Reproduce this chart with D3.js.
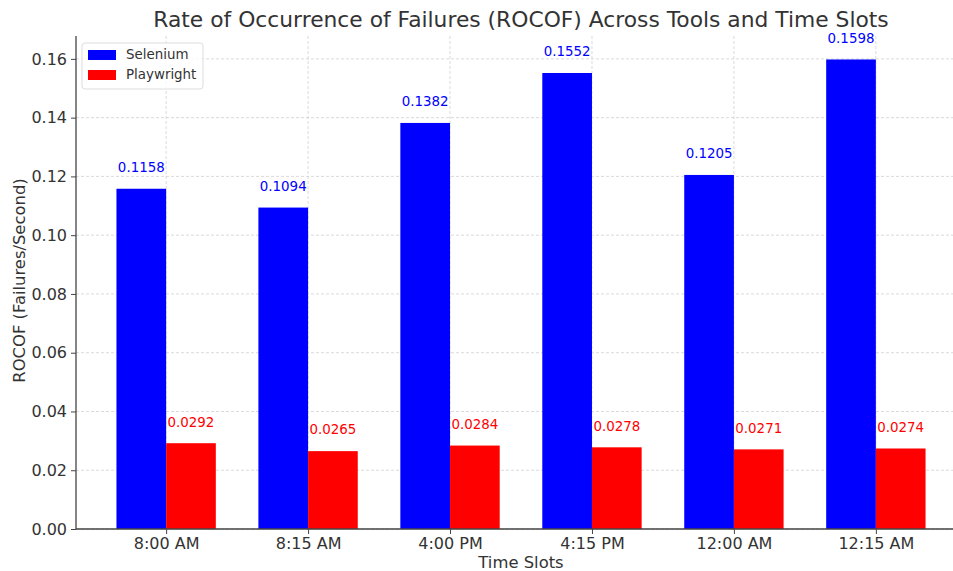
<!DOCTYPE html>
<html>
<head>
<meta charset="utf-8">
<script src="https://cdnjs.cloudflare.com/ajax/libs/d3/7.8.5/d3.min.js"></script>
<style>
  body { margin: 0; background: #fff; }
  svg { font-family: "DejaVu Sans", sans-serif; }
</style>
</head>
<body>
<div id="chart"></div>
<script>
// data
var timeSlots = ["8:00 AM", "8:15 AM", "4:00 PM", "4:15 PM", "12:00 AM", "12:15 AM"];
var selenium = [0.1158, 0.1094, 0.1382, 0.1552, 0.1205, 0.1598];
var playwright = [0.0292, 0.0265, 0.0284, 0.0278, 0.0271, 0.0274];
var yTicks = [0, 0.02, 0.04, 0.06, 0.08, 0.10, 0.12, 0.14, 0.16];
var seriesNames = ["Selenium", "Playwright"];
var seriesColors = ["#0000ff", "#ff0000"];

var svgWidth = 953, svgHeight = 571;
var margin = {top: 36, right: -13, bottom: 42, left: 76};
var width = svgWidth - margin.left - margin.right;
var height = svgHeight - margin.top - margin.bottom;
var barW = 0.35;

var svg = d3.select("#chart").append("svg")
  .attr("width", svgWidth)
  .attr("height", svgHeight);

var g = svg.append("g")
  .attr("transform", "translate(" + margin.left + "," + margin.top + ")");

// linear x like matplotlib, with 5% margins around the bars
var xLo = -barW, xHi = timeSlots.length - 1 + barW;
var pad = (xHi - xLo) * 0.05;
var x = d3.scaleLinear().domain([xLo - pad, xHi + pad]).range([0, width]);
var y = d3.scaleLinear().domain([0, d3.max(selenium) * 1.05]).range([height, 0]);

// grid
g.append("g").selectAll("line").data(yTicks).enter().append("line")
  .attr("x1", 0).attr("x2", width)
  .attr("y1", function(d) { return y(d); }).attr("y2", function(d) { return y(d); })
  .attr("stroke", "#d0d0d0").attr("stroke-width", 0.8).attr("stroke-dasharray", "3,2");
g.append("g").selectAll("line").data(timeSlots).enter().append("line")
  .attr("x1", function(d, i) { return x(i); }).attr("x2", function(d, i) { return x(i); })
  .attr("y1", 0).attr("y2", height)
  .attr("stroke", "#d0d0d0").attr("stroke-width", 0.8).attr("stroke-dasharray", "3,2");

// bars
var series = [selenium, playwright];
series.forEach(function(vals, s) {
  var off = s === 0 ? -barW / 2 : barW / 2;
  g.append("g").selectAll("rect").data(vals).enter().append("rect")
    .attr("x", function(d, i) { return x(i + off - barW / 2); })
    .attr("width", x(barW) - x(0))
    .attr("y", function(d) { return y(d); })
    .attr("height", function(d) { return y(0) - y(d); })
    .attr("fill", seriesColors[s]);
  g.append("g").selectAll("text").data(vals).enter().append("text")
    .attr("x", function(d, i) { return x(i + off); })
    .attr("y", function(d) { return y(d + 0.005) - 2; })
    .attr("text-anchor", "middle")
    .attr("font-size", "13.4px")
    .attr("fill", seriesColors[s])
    .text(function(d) { return d.toFixed(4); });
});

// axes
var yAxis = g.append("g")
  .call(d3.axisLeft(y).tickValues(yTicks).tickFormat(d3.format(".2f")).tickSize(5).tickPadding(4));
var xAxis = g.append("g")
  .attr("transform", "translate(0," + height + ")")
  .call(d3.axisBottom(x).tickValues(d3.range(timeSlots.length))
    .tickFormat(function(i) { return timeSlots[i]; }).tickSize(5).tickPadding(4));
[xAxis, yAxis].forEach(function(a) {
  a.select(".domain").attr("stroke", "#444").attr("stroke-width", 1.3);
  a.selectAll(".tick line").attr("stroke", "#444");
  a.selectAll(".tick text").attr("fill", "#333").attr("font-size", "16px")
    .attr("font-family", "DejaVu Sans");
});
xAxis.select(".domain").attr("d", "M0,0H" + width);
yAxis.select(".domain").attr("d", "M0," + height + "V0");

// title and labels
svg.append("text")
  .attr("x", margin.left + width / 2).attr("y", 27)
  .attr("text-anchor", "middle").attr("font-size", "21.8px").attr("fill", "#333")
  .text("Rate of Occurrence of Failures (ROCOF) Across Tools and Time Slots");
svg.append("text")
  .attr("x", margin.left + width / 2).attr("y", 568)
  .attr("text-anchor", "middle").attr("font-size", "16.4px").attr("fill", "#333")
  .text("Time Slots");
svg.append("text")
  .attr("transform", "translate(25," + (margin.top + height / 2 - 2) + ") rotate(-90)")
  .attr("text-anchor", "middle").attr("font-size", "16.4px").attr("fill", "#333")
  .text("ROCOF (Failures/Second)");

// legend
var legend = g.append("g").attr("transform", "translate(6,7)");
legend.append("rect")
  .attr("width", 121).attr("height", 46).attr("rx", 3)
  .attr("fill", "#fff").attr("fill-opacity", 0.8)
  .attr("stroke", "#ddd");
seriesNames.forEach(function(name, s) {
  legend.append("rect")
    .attr("x", 6).attr("y", 7 + s * 20)
    .attr("width", 28).attr("height", 10)
    .attr("fill", seriesColors[s]);
  legend.append("text")
    .attr("x", 44).attr("y", 16 + s * 20)
    .attr("font-size", "13.4px").attr("fill", "#333")
    .text(name);
});
</script>
</body>
</html>
